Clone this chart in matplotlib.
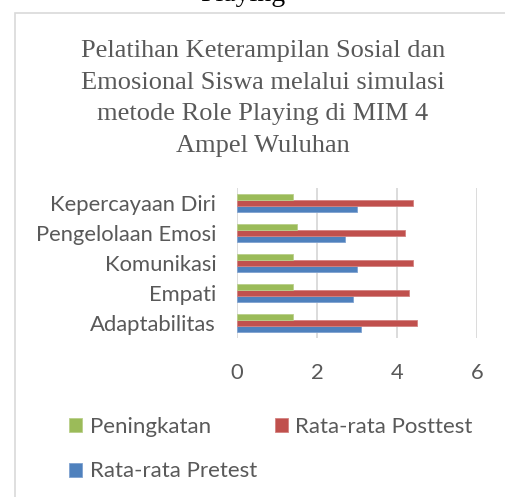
import matplotlib.pyplot as plt
from matplotlib.patches import Rectangle
import numpy as np

categories = ["Adaptabilitas", "Empati", "Komunikasi", "Pengelolaan Emosi", "Kepercayaan Diri"]
pretest = [3.1, 2.9, 3.0, 2.7, 3.0]
posttest = [4.5, 4.3, 4.4, 4.2, 4.4]
peningkatan = [1.4, 1.4, 1.4, 1.5, 1.4]
xticks = [0, 2, 4, 6]

title = ("Pelatihan Keterampilan Sosial dan\nEmosional Siswa melalui simulasi\n"
         "metode Role Playing di MIM 4\nAmpel Wuluhan")

W, H = 505, 497
fig = plt.figure(figsize=(W / 100, H / 100), dpi=100)

# chart frame (cropped at right and bottom)
fig.patches.append(Rectangle((14.5 / W, -0.1), 1.2, 1 - 12.5 / H + 0.1, transform=fig.transFigure,
                             fill=False, edgecolor="#D9D9D9", linewidth=1.2))

# tail of the caption above the chart, cut off at the top
fig.text(243 / W, 1 - 1 / H, "Playing", ha="center", va="baseline",
         fontsize=20, family="Liberation Serif", color="black")

fig.text(263 / W, 1 - 40 / H, title, ha="center", va="top", fontsize=19,
         family="Liberation Serif", color="#595959", linespacing=1.57)

ax = fig.add_axes([237 / W, 1 - 338 / H, 240 / W, 150 / H])
y = np.arange(len(categories))
h = 0.21
ax.barh(y - h, pretest, height=h, color="#4F81BD", edgecolor="#7FA2D0", linewidth=0.6, label="Rata-rata Pretest", zorder=3)
ax.barh(y, posttest, height=h, color="#C0504D", edgecolor="#D48380", linewidth=0.6, label="Rata-rata Posttest", zorder=3)
ax.barh(y + h, peningkatan, height=h, color="#9BBB59", edgecolor="#B9D08A", linewidth=0.6, label="Peningkatan", zorder=3)

ax.set_xlim(0, 6)
ax.set_ylim(-0.5, len(categories) - 0.5)
ax.set_xticks(xticks)
ax.set_yticks(y)
ax.set_yticklabels(categories)
ax.grid(axis="x", color="#D9D9D9", linewidth=1.3, zorder=0)
for s in ax.spines.values():
    s.set_visible(False)
ax.tick_params(length=0, labelsize=15.8, labelcolor="#595959")
ax.tick_params(axis="y", pad=15)
ax.tick_params(axis="x", pad=18)
for lab in ax.get_xticklabels() + ax.get_yticklabels():
    lab.set_family("Lato")

hs, ls = ax.get_legend_handles_labels()
order = [2, 0, 1]
leg = fig.legend([hs[i] for i in order], [ls[i] for i in order], ncol=2,
                 loc="upper left", bbox_to_anchor=(49 / W, 1 - 397 / H),
                 frameon=False, prop={"family": "Lato", "size": 16},
                 handlelength=0.6, handleheight=0.6, handletextpad=0.33,
                 labelspacing=1.1, columnspacing=0.8)
for t in leg.get_texts():
    t.set_color("#595959")

fig.savefig("out.png", dpi=100)
